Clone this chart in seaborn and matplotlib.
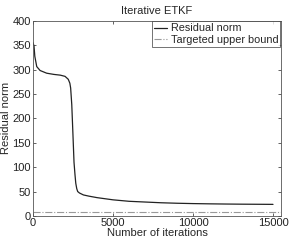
import numpy as np
import pandas as pd
import matplotlib
matplotlib.use("Agg")
import matplotlib.pyplot as plt
import seaborn as sns

# Values
iterations = [0, 60, 110, 230, 440, 850, 1300, 1700, 2000, 2200, 2300, 2350,
              2420, 2480, 2560, 2620, 2670, 2730, 2790, 2900, 3150, 3500,
              4000, 5000, 6000, 7000, 8000, 9000, 10000, 11000, 12000,
              13000, 14000, 15000]
residual = [355, 348, 327, 306, 298, 292.5, 290, 288.5, 286, 280, 272, 262,
            228, 178, 110, 85, 67, 56, 50, 47, 43, 40.5,
            37.5, 33, 30, 28.5, 27, 26, 25.3, 24.8, 24.4,
            24.1, 23.9, 23.7]
bound_x = [0, 15500]
bound_y = [9, 9]

sns.set_style("ticks", {"xtick.direction": "in", "ytick.direction": "in"})
plt.rcParams['font.family'] = ['Liberation Sans', 'DejaVu Sans']

df = pd.DataFrame({"Number of iterations": iterations, "Residual norm": residual})
bound = pd.DataFrame({"x": bound_x, "y": bound_y})

fig = plt.figure(figsize=(2.9, 2.41), dpi=100)
ax = fig.add_axes([0.114, 0.104, 0.855, 0.81])

sns.lineplot(data=df, x="Number of iterations", y="Residual norm", ax=ax,
             color="#222222", linewidth=0.9, label="Residual norm")
sns.lineplot(data=bound, x="x", y="y", ax=ax, color="#999999",
             linewidth=0.8, linestyle="-.", label="Targeted upper bound")

ax.set_xlim(0, 15500)
ax.set_ylim(0, 400)
ax.set_xticks([0, 5000, 10000, 15000])
ax.set_yticks(range(0, 401, 50))
ax.tick_params(labelsize=8, length=2.5, width=0.5, pad=1.5,
               top=True, right=True, colors="#222222")
for s in ax.spines.values():
    s.set_linewidth(0.6)
    s.set_color("#555555")
ax.set_xlabel("Number of iterations", fontsize=8, labelpad=0)
ax.set_ylabel("Residual norm", fontsize=8, labelpad=1)
ax.set_title("Iterative ETKF", fontsize=8, pad=5)

leg = ax.legend(loc="upper right", fontsize=7.8, frameon=True, fancybox=False,
                borderpad=0.2, handlelength=1.2, handletextpad=0.3,
                labelspacing=0.1, borderaxespad=0.05)
leg.get_frame().set_edgecolor("#333333")
leg.get_frame().set_linewidth(0.6)

fig.savefig("out.png", dpi=100)
